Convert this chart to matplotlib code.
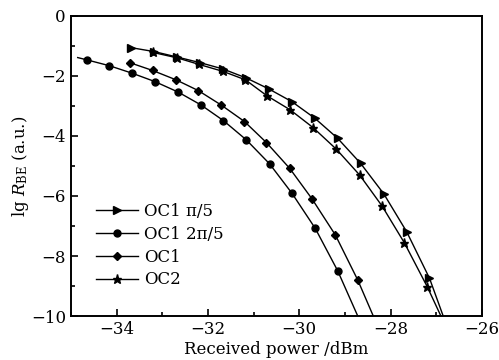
import matplotlib
matplotlib.use('Agg')
import matplotlib.pyplot as plt
from matplotlib.ticker import MultipleLocator

plt.rcParams['font.family'] = ['DejaVu Serif']
plt.rcParams['mathtext.fontset'] = 'dejavuserif'

# OC1 pi/5 (triangles)
x_tri = [-33.68, -33.18, -32.68, -32.17, -31.67, -31.16, -30.66, -30.16, -29.66, -29.16, -28.66, -28.15, -27.65, -27.15, -26.85]
y_tri = [-1.06, -1.19, -1.37, -1.56, -1.77, -2.07, -2.44, -2.86, -3.41, -4.08, -4.91, -5.93, -7.19, -8.74, -10.0]

# OC1 2pi/5 (circles)
x_cir = [-34.85, -34.64, -34.16, -33.66, -33.16, -32.65, -32.15, -31.66, -31.16, -30.65, -30.16, -29.65, -29.16, -28.72]
y_cir = [-1.39, -1.47, -1.66, -1.91, -2.19, -2.54, -2.97, -3.49, -4.13, -4.93, -5.91, -7.08, -8.49, -10.0]

# OC1 (diamonds)
x_dia = [-33.71, -33.21, -32.70, -32.21, -31.71, -31.20, -30.72, -30.21, -29.72, -29.21, -28.72, -28.38]
y_dia = [-1.56, -1.82, -2.13, -2.49, -2.97, -3.52, -4.22, -5.08, -6.10, -7.30, -8.80, -10.0]

# OC2 (stars)
x_star = [-33.20, -32.67, -32.19, -31.67, -31.18, -30.71, -30.20, -29.70, -29.19, -28.68, -28.19, -27.70, -27.20, -26.90]
y_star = [-1.22, -1.40, -1.62, -1.85, -2.13, -2.66, -3.13, -3.72, -4.44, -5.30, -6.33, -7.56, -9.02, -10.0]

fig = plt.figure(figsize=(4.99, 3.6), dpi=100)
ax = fig.add_axes([0.142, 0.122, 0.824, 0.834])

ax.plot(x_tri, y_tri, '-', color='black', lw=1.0, marker='>', ms=5.5,
        markevery=list(range(len(x_tri) - 1)), label='OC1 π/5')
ax.plot(x_cir, y_cir, '-', color='black', lw=1.0, marker='o', ms=5,
        markevery=list(range(1, len(x_cir) - 1)), label='OC1 2π/5')
ax.plot(x_dia, y_dia, '-', color='black', lw=1.0, marker='D', ms=4.5,
        markevery=list(range(len(x_dia) - 1)), label='OC1')
ax.plot(x_star, y_star, '-', color='black', lw=1.0, marker='*', ms=6.5,
        markevery=list(range(len(x_star) - 1)), label='OC2')

ax.set_xlim(-35, -26)
ax.set_ylim(-10, 0)
ax.xaxis.set_major_locator(MultipleLocator(2))
ax.xaxis.set_minor_locator(MultipleLocator(1))
ax.yaxis.set_major_locator(MultipleLocator(2))
ax.yaxis.set_minor_locator(MultipleLocator(1))
ax.tick_params(which='both', direction='in', labelsize=12, width=1.2)
ax.tick_params(which='major', length=5)
ax.tick_params(which='minor', length=3)
for s in ax.spines.values():
    s.set_linewidth(1.4)

ax.set_xlabel('Received power /dBm', fontsize=12, labelpad=2)
ax.set_ylabel(r'lg $R_{\mathrm{BE}}$ (a.u.)', fontsize=12, labelpad=0)

leg = ax.legend(loc='lower left', bbox_to_anchor=(0.045, 0.07), frameon=False,
                fontsize=12, handlelength=2.5, handletextpad=0.4,
                labelspacing=0.35, borderaxespad=0)

fig.savefig('out.png', dpi=100)
